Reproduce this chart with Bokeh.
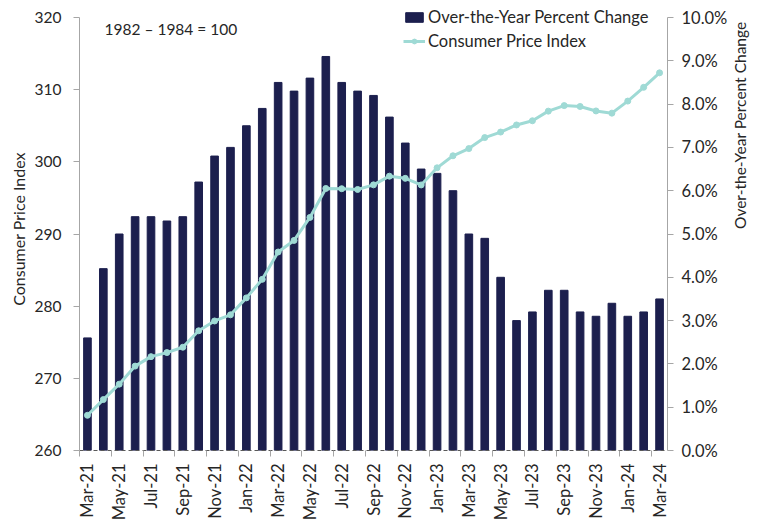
from bokeh.plotting import figure
from bokeh.models import (Range1d, LinearAxis, FixedTicker, PrintfTickFormatter,
                          Legend, LegendItem, Label, ColumnDataSource)
from bokeh.embed import file_html
from bokeh.resources import INLINE
import math

months = ["Mar-21", "Apr-21", "May-21", "Jun-21", "Jul-21", "Aug-21", "Sep-21", "Oct-21",
          "Nov-21", "Dec-21", "Jan-22", "Feb-22", "Mar-22", "Apr-22", "May-22", "Jun-22",
          "Jul-22", "Aug-22", "Sep-22", "Oct-22", "Nov-22", "Dec-22", "Jan-23", "Feb-23",
          "Mar-23", "Apr-23", "May-23", "Jun-23", "Jul-23", "Aug-23", "Sep-23", "Oct-23",
          "Nov-23", "Dec-23", "Jan-24", "Feb-24", "Mar-24"]
pct_change = [2.6, 4.2, 5.0, 5.4, 5.4, 5.3, 5.4, 6.2, 6.8, 7.0, 7.5, 7.9, 8.5, 8.3, 8.6, 9.1,
              8.5, 8.3, 8.2, 7.7, 7.1, 6.5, 6.4, 6.0, 5.0, 4.9, 4.0, 3.0, 3.2, 3.7, 3.7, 3.2,
              3.1, 3.4, 3.1, 3.2, 3.5]
cpi = [264.877, 267.054, 269.195, 271.696, 273.003, 273.567, 274.310, 276.589, 277.948,
       278.802, 281.148, 283.716, 287.504, 289.109, 292.296, 296.311, 296.276, 296.171,
       296.808, 298.012, 297.711, 296.797, 299.170, 300.840, 301.836, 303.363, 304.127,
       305.109, 305.691, 307.026, 307.789, 307.671, 307.051, 306.746, 308.417, 310.326,
       312.332]
cpi_ticks = [260, 270, 280, 290, 300, 310, 320]
pct_ticks = [0, 1, 2, 3, 4, 5, 6, 7, 8, 9, 10]

n = len(months)
xs = [i + 0.5 for i in range(n)]
src = ColumnDataSource(dict(x=xs, pct=pct_change, cpi=cpi))

FONT = "Lato"
NAVY = "#1c1f4e"
TEAL = "#9fdad5"
GRAY = "#a6a6a6"
TXT = "#262626"

# frame: axis span 433px tall, plus 10px headroom above the top tick for the legend
AXIS_PX = 433.0
HEAD_PX = 10.0
cpi_lo, cpi_hi = cpi_ticks[0], cpi_ticks[-1]
pct_lo, pct_hi = pct_ticks[0], pct_ticks[-1]
cpi_top = cpi_hi + HEAD_PX * (cpi_hi - cpi_lo) / AXIS_PX
pct_top = pct_hi + HEAD_PX * (pct_hi - pct_lo) / AXIS_PX

p = figure(frame_width=588, frame_height=int(AXIS_PX + HEAD_PX),
           output_backend="svg", toolbar_location=None,
           x_range=Range1d(0, n), y_range=Range1d(cpi_lo, cpi_top),
           min_border_left=79, min_border_right=4, min_border_top=7, min_border_bottom=2)
p.outline_line_color = None
p.xgrid.grid_line_color = None
p.ygrid.grid_line_color = None
p.extra_y_ranges = {"pct": Range1d(pct_lo, pct_top)}

bars = p.vbar(x="x", top="pct", width=0.48, bottom=0, source=src, y_range_name="pct",
              fill_color=NAVY, line_color=NAVY)
line = p.line(x="x", y="cpi", source=src, line_color=TEAL, line_width=3)
dots = p.scatter(x="x", y="cpi", source=src, size=6, fill_color=TEAL, line_color=TEAL)

# x axis
xax = p.xaxis[0]
label_pos = [xs[i] for i in range(0, n, 2)]
xax.ticker = FixedTicker(ticks=label_pos, minor_ticks=[float(i) for i in range(0, n, 2)])
xax.major_label_overrides = {xs[i]: months[i] for i in range(0, n, 2)}
xax.major_label_orientation = math.pi / 2
xax.major_tick_line_color = None
xax.major_tick_out = 6
xax.minor_tick_line_color = GRAY
xax.minor_tick_out = 6
xax.minor_tick_in = 0
xax.axis_line_color = "#595959"
xax.axis_line_dash = "4 3"
xax.major_label_text_font = FONT
xax.major_label_text_font_size = "16.5px"
xax.major_label_text_color = TXT
xax.major_label_standoff = 7

# left axis
yax = p.yaxis[0]
yax.ticker = FixedTicker(ticks=cpi_ticks)
yax.bounds = (cpi_lo, cpi_hi)
yax.axis_line_color = GRAY
yax.major_tick_line_color = GRAY
yax.major_tick_out = 6
yax.major_tick_in = 0
yax.minor_tick_line_color = None
yax.major_label_text_font = FONT
yax.major_label_text_font_size = "15.5px"
yax.major_label_text_color = TXT
yax.major_label_standoff = 12
yax.axis_label = "Consumer Price Index"
yax.axis_label_text_font = FONT
yax.axis_label_text_font_size = "16px"
yax.axis_label_text_font_style = "normal"
yax.axis_label_text_color = TXT
yax.axis_label_standoff = 4

rax = LinearAxis(y_range_name="pct", ticker=FixedTicker(ticks=pct_ticks),
                 formatter=PrintfTickFormatter(format="%.1f%%"), bounds=(pct_lo, pct_hi))
rax.axis_line_color = GRAY
rax.major_tick_line_color = GRAY
rax.major_tick_out = 6
rax.major_tick_in = 0
rax.minor_tick_line_color = None
rax.major_label_text_font = FONT
rax.major_label_text_font_size = "16.5px"
rax.major_label_text_color = TXT
rax.major_label_standoff = 8
rax.axis_label = "Over-the-Year Percent Change"
rax.axis_label_text_font = FONT
rax.axis_label_text_font_size = "15.5px"
rax.axis_label_text_font_style = "normal"
rax.axis_label_text_color = TXT
rax.axis_label_standoff = 10
rax.axis_label_orientation = math.pi / 2
p.add_layout(rax, "right")

legend = Legend(items=[LegendItem(label="Over-the-Year Percent Change", renderers=[bars]),
                       LegendItem(label="Consumer Price Index", renderers=[line, dots])],
                location=(324, 399), orientation="vertical",
                background_fill_alpha=0, border_line_color=None,
                padding=0, margin=0, spacing=4,
                glyph_width=22, glyph_height=12, label_height=20, label_standoff=3,
                label_text_font=FONT, label_text_font_size="16.5px", label_text_color=TXT)
p.add_layout(legend, "center")

note = Label(x=25, y=422, x_units="screen", y_units="screen", text="1982 – 1984 = 100",
             text_font=FONT, text_font_size="15.5px", text_color=TXT, text_baseline="middle")
p.add_layout(note)

open("out.html", "w").write(file_html(p, INLINE))
